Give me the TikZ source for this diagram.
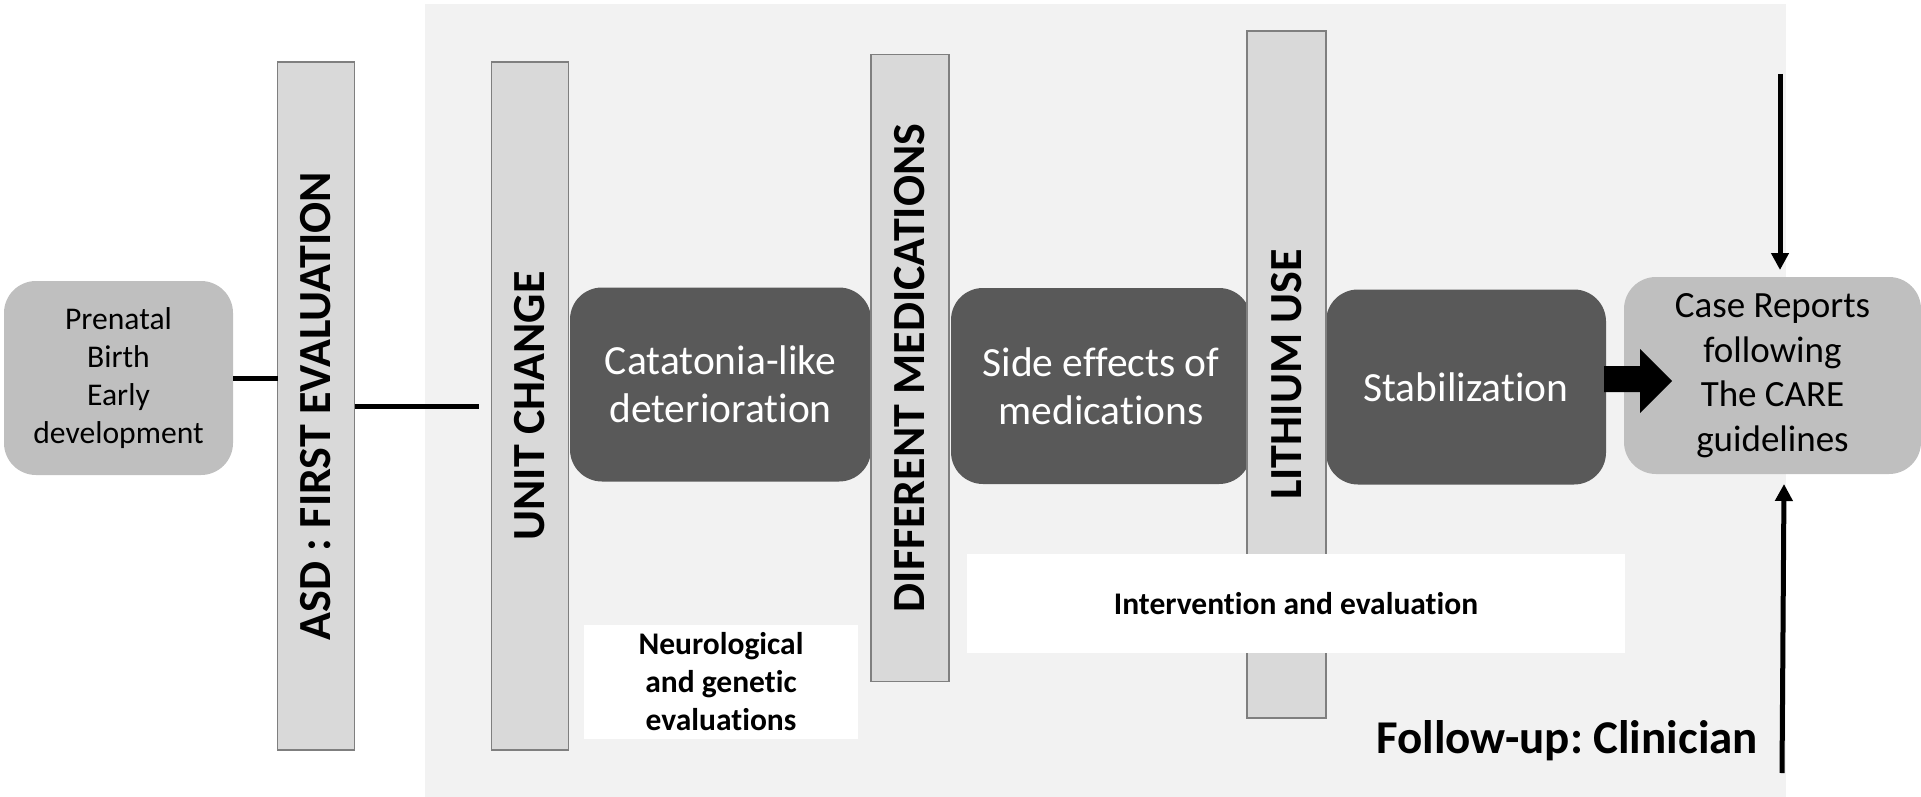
\documentclass[tikz,border=0pt]{standalone}
\usepackage{fontspec}
\setmainfont{Carlito}[Ligatures={NoCommon}]
\usetikzlibrary{arrows.meta}
\frenchspacing
\definecolor{bggray}{HTML}{F2F2F2}
\definecolor{bargray}{HTML}{D9D9D9}
\definecolor{barline}{HTML}{7F7F7F}
\definecolor{darkbox}{HTML}{595959}
\definecolor{lightbox}{HTML}{BFBFBF}
\tikzset{
  every node/.style={inner sep=0pt, outer sep=0pt, align=center},
  barbox/.style={fill=bargray, draw=barline, line width=1.5pt, minimum width=77pt},
  darkstep/.style={fill=darkbox, rounded corners=32pt, text=white,
    font=\fontsize{41.5}{48}\selectfont},
  lightstep/.style={fill=lightbox, rounded corners=32pt, text=black},
  whitebox/.style={fill=white, font=\fontsize{31.5}{38}\selectfont\bfseries},
  conn/.style={line width=5pt, black},
  thinarrow/.style={line width=5pt, -{Triangle[length=17pt,width=17pt]}}
}
\newcommand{\barlabel}[1]{\rotatebox{90}{\fontsize{46}{50}\selectfont\bfseries #1}}
\begin{document}
\begin{tikzpicture}[x=1pt,y=-1pt]
\useasboundingbox (0,0) rectangle (1921,797);
% background panel
\fill[bggray] (425,4) rectangle (1786,797);

% rounded boxes
\node[lightstep, minimum width=229pt, minimum height=194pt,
  font=\fontsize{31.6}{38}\selectfont] (prenatal) at (118.5,378)
  {Prenatal\\Birth\\Early\\development};
\node[darkstep, minimum width=301pt, minimum height=194pt] (cata) at (720.5,384.5)
  {Catatonia-like\\deterioration};
\node[darkstep, minimum width=300pt, minimum height=196pt] (side) at (1101,386)
  {Side effects of\\medications};
\node[darkstep, minimum width=280pt, minimum height=195pt] (stab) at (1466,387)
  {Stabilization};
\node[lightstep, minimum width=297pt, minimum height=197pt,
  font=\fontsize{37}{44.5}\selectfont] (care) at (1772.5,375.5)
  {Case Reports\\following\\The CARE\\guidelines};

% vertical bars
\node[barbox, minimum height=688pt] (asd) at (316,406)
  {\barlabel{ASD : FIRST EVALUATION}};
\node[barbox, minimum height=688pt] (unit) at (530,406)
  {\barlabel{UNIT CHANGE}};
\node[barbox, minimum width=78pt, minimum height=627pt] (meds) at (910,368)
  {\barlabel{DIFFERENT MEDICATIONS}};
\node[barbox, minimum width=79pt, minimum height=687pt] (lith) at (1286.5,374.5)
  {\barlabel{LITHIUM USE}};

% white boxes
\node[whitebox, minimum width=274pt, minimum height=114pt] (neuro) at (721,682)
  {Neurological\\and genetic\\evaluations};
\node[whitebox, minimum width=658pt, minimum height=99pt] (interv) at (1296,603.5)
  {Intervention and evaluation};

% follow-up label
\node[font=\fontsize{47}{52}\selectfont\bfseries] (follow) at (1567,741)
  {Follow-up: Clinician};

% connectors
\draw[conn] (prenatal.east) -- (prenatal.east -| asd.west);
\coordinate (uend) at (479,406);
\draw[conn] (asd.east) -- (uend);

% block arrow from Stabilization to Case Reports
\fill[black] (1604,366) -- (1640,366) -- (1640,349) -- (1672,381)
  -- (1640,413) -- (1640,392) -- (1604,392) -- cycle;

% clinician arrows
\coordinate (dtop) at (1780,74);
\coordinate (dtip) at (1780,270);
\draw[thinarrow] (dtop) -- (dtip);
\coordinate (ubot) at (1782,773);
\coordinate (utip) at (1784,484);
\draw[thinarrow] (ubot) -- (utip);
\end{tikzpicture}
\end{document}
